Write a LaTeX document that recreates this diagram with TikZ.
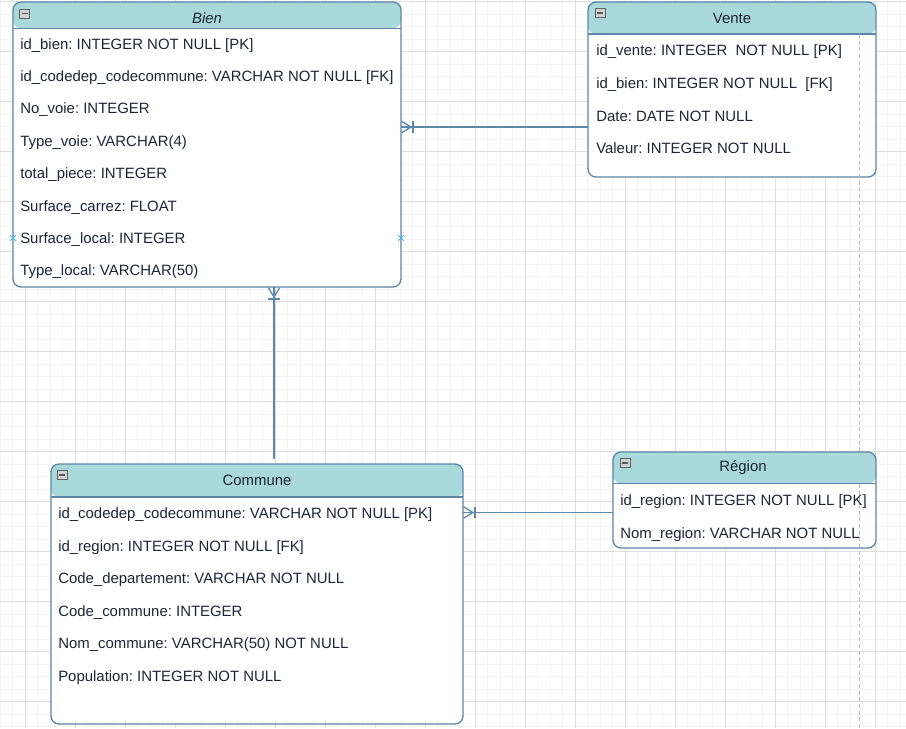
\documentclass[tikz,border=0pt]{standalone}
\usepackage{fontspec}
\setmainfont{Liberation Sans}
\usetikzlibrary{arrows.meta, shapes.misc}
\frenchspacing

\definecolor{gridminor}{HTML}{F4F4F4}
\definecolor{gridmajor}{HTML}{DEDEDE}
\definecolor{border}{HTML}{5B87AA}
\definecolor{headfill}{HTML}{A9D9DA}
\definecolor{txt}{HTML}{1C2535}
\definecolor{hintblue}{HTML}{3DB2EE}

\newcommand\tablefont{\fontsize{11.2}{13}\selectfont}

\tikzset{
  entity/.style={draw=border, fill=white, line width=1pt, rounded corners=6pt,
    anchor=north west, inner sep=0pt, outer sep=0pt,
    path picture={
      \fill[headfill] (path picture bounding box.north west)
        rectangle ([yshift=-#1]path picture bounding box.north east);
      \draw[border, line width=1pt] ([yshift=-#1]path picture bounding box.north west)
        -- ([yshift=-#1]path picture bounding box.north east);
    }},
  toggle/.style={rectangle, draw=gray!75!black, fill=gray!35, line width=0.5pt,
    minimum width=7.5pt, minimum height=6.75pt, inner sep=0pt,
    path picture={
      \draw[black!65, line width=1pt] ([xshift=1.5pt]path picture bounding box.west)
        -- ([xshift=-1.5pt]path picture bounding box.east);
    }},
  title/.style={inner sep=0pt, text=txt, font=\tablefont},
  field/.style={anchor=west, inner sep=0pt, text=txt, font=\tablefont,
    text height=8pt, text depth=0pt},
  rel/.style={draw=border, line width=1pt,
    postaction={draw=border,
      -{Bar[width=8.5pt, line width=1pt] Straight Barb[reversed, length=7pt, width=8.5pt, line width=1pt]}}},
  hint/.style={cross out, draw=hintblue, line width=0.6pt, minimum size=3.5pt, inner sep=0pt},
  pagebreak/.style={draw=gray!55, line width=0.6pt, dash pattern=on 3pt off 2pt},
}

\begin{document}
\begin{tikzpicture}[x=0.75pt, y=-0.75pt]
    %
    \useasboundingbox (0,0) rectangle (906,728);
    \fill[white] (0,0) rectangle (906,728);
    \foreach \i in {0,...,72}
        \draw[gridminor, line width=0.5pt] (\i*12.5,0) -- (\i*12.5,728);
    \foreach \i in {0,...,58}
        \draw[gridminor, line width=0.5pt] (0,1.7+\i*12.5) -- (906,1.7+\i*12.5);
    \foreach \i in {0,...,17}
        \draw[gridmajor, line width=0.5pt] (25+\i*50,0) -- (25+\i*50,728);
    \foreach \i in {0,...,14}
        \draw[gridmajor, line width=0.5pt] (0,1.7+\i*50) -- (906,1.7+\i*50);
    %
    \node [entity=19.7pt, minimum width=291pt, minimum height=213.75pt] (bien) at (13,2) {};
    \node [entity=24pt, minimum width=216pt, minimum height=131.25pt] (vente) at (588,2) {};
    \node [entity=24.75pt, minimum width=309pt, minimum height=195pt] (commune) at (51,464) {};
    \node [entity=23.6pt, minimum width=197.25pt, minimum height=72pt] (region) at (613,452) {};
    %
    \draw[pagebreak] (859,34) -- (859,452);
    \draw[pagebreak] (859,484) -- (859,728);
    %
    \node [toggle] (bien-icon) at (24.5,13.5) {};
    \node [toggle] (vente-icon) at (600,13) {};
    \node [toggle] (commune-icon) at (62,475) {};
    \node [toggle] (region-icon) at (625,463) {};
    %
    \node [title, font=\tablefont\itshape] (bien-title) at (207,18) {Bien};
    \node [title] (vente-title) at (732,18) {Vente};
    \node [title] (commune-title) at (257,480) {Commune};
    \node [title] (region-title) at (743,468) {Région};
    %
    \node [field] (bien-1) at (20,44) {id\_bien: INTEGER NOT NULL [PK]};
    \node [field] (bien-2) at (20,76) {id\_codedep\_codecommune: VARCHAR NOT NULL [FK]};
    \node [field] (bien-3) at (20,108) {No\_voie: INTEGER};
    \node [field] (bien-4) at (20,141) {Type\_voie: VARCHAR(4)};
    \node [field] (bien-5) at (20,173) {total\_piece: INTEGER};
    \node [field] (bien-6) at (20,206) {Surface\_carrez: FLOAT};
    \node [field] (bien-7) at (20,238) {Surface\_local: INTEGER};
    \node [field] (bien-8) at (20,270) {Type\_local: VARCHAR(50)};
    %
    \node [field] (vente-1) at (596,50) {id\_vente: INTEGER\ \ NOT NULL [PK]};
    \node [field] (vente-2) at (596,83) {id\_bien: INTEGER NOT NULL\ \ [FK]};
    \node [field] (vente-3) at (596,116) {Date: DATE NOT NULL};
    \node [field] (vente-4) at (596,148) {Valeur: INTEGER NOT NULL};
    %
    \node [field] (commune-1) at (58,513) {id\_codedep\_codecommune: VARCHAR NOT NULL [PK]};
    \node [field] (commune-2) at (58,546) {id\_region: INTEGER NOT NULL [FK]};
    \node [field] (commune-3) at (58,578) {Code\_departement: VARCHAR NOT NULL};
    \node [field] (commune-4) at (58,611) {Code\_commune: INTEGER};
    \node [field] (commune-5) at (58,643) {Nom\_commune: VARCHAR(50) NOT NULL};
    \node [field] (commune-6) at (58,676) {Population: INTEGER NOT NULL};
    %
    \node [field] (region-1) at (620,500) {id\_region: INTEGER NOT NULL [PK]};
    \node [field] (region-2) at (620,533) {Nom\_region: VARCHAR NOT NULL};
    %
    \node [hint] (bien-w) at (bien.west |- 0,238) {};
    \node [hint] (bien-e) at (bien.east |- 0,238) {};
    %
    \draw[rel] (vente.west |- 0,127) -- (bien.east |- 0,127);
    \draw[rel, shorten <=3.75pt] (commune.north -| 274,0) -- (bien.south -| 274,0);
    \draw[rel] (region.west |- 0,512.5) -- (commune.east |- 0,512.5);
\end{tikzpicture}
\end{document}
